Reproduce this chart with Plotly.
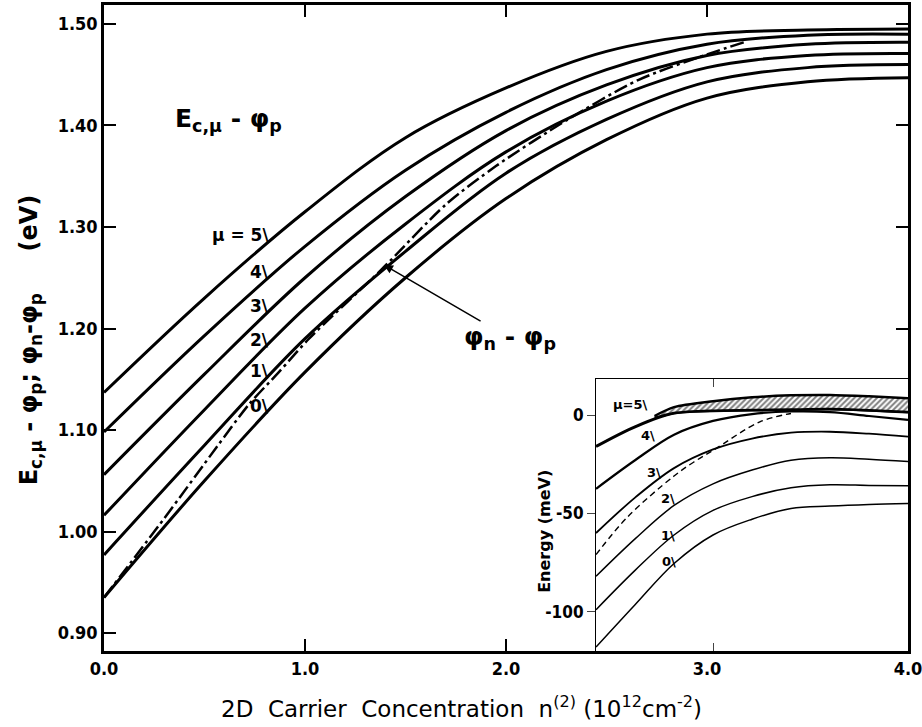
import plotly.graph_objects as go

# ---------------- main panel data ----------------
n_main = [0.0, 0.5, 1.0, 1.5, 2.0, 2.5, 3.0, 3.5, 4.0]
mu5 = [1.137, 1.230, 1.315, 1.388, 1.437, 1.473, 1.490, 1.494, 1.495]
mu4 = [1.098, 1.193, 1.281, 1.356, 1.413, 1.455, 1.480, 1.489, 1.490]
mu3 = [1.056, 1.155, 1.250, 1.330, 1.395, 1.440, 1.469, 1.480, 1.482]
mu2 = [1.016, 1.120, 1.220, 1.303, 1.374, 1.424, 1.457, 1.469, 1.471]
mu1 = [0.977, 1.085, 1.190, 1.276, 1.353, 1.406, 1.443, 1.457, 1.460]
mu0 = [0.935, 1.050, 1.157, 1.250, 1.328, 1.386, 1.427, 1.443, 1.447]
main_curves = [mu5, mu4, mu3, mu2, mu1, mu0]

n_dd = [0.0, 0.3, 0.56, 0.72, 0.87, 1.02, 1.38, 1.70, 1.95, 2.3, 2.66, 3.0, 3.2]
phi_np = [0.935, 1.013, 1.083, 1.125, 1.157, 1.190, 1.258, 1.322, 1.360, 1.405, 1.445, 1.470, 1.483]

y_ticks = [0.90, 1.00, 1.10, 1.20, 1.30, 1.40, 1.50]
y_ticktext = ["0.90", "1.00", "1.10", "1.20", "1.30", "1.40", "1.50"]
x_ticks = [0, 1, 2, 3, 4]
x_ticktext = ["0.0", "1.0", "2.0", "3.0", "4.0"]

# ---------------- inset data ----------------
x_in = [24, 26, 28, 30, 32, 34, 36, 38, 40]
in0 = [-118, -96.5, -75.5, -61, -53, -47.5, -46.3, -45.5, -45]
in1 = [-99, -79, -61, -48.5, -41.5, -37, -35.5, -35.8, -36]
in2 = [-82, -63, -46, -35, -28, -23, -21.7, -22.5, -23.7]
in3 = [-60, -42, -27, -17.5, -12, -9, -8.5, -9.5, -11]
in4 = [-37.5, -23, -10, -3, 0.5, 1.8, 1.5, -0.5, -2.5]
in5 = [-16, -6, 1, 2.2, 2.5, 2.8, 3, 2.4, 1.5]
x_band = [27, 28, 30, 32, 34, 36, 38, 40]
band_lo = [-1.5, 1, 2.2, 2.5, 2.8, 3, 2.4, 1.5]
band_hi = [-0.5, 4, 7, 9, 10, 10.2, 9.5, 8.5]
x_dash = [24, 25.6, 28, 29, 30, 32.4, 34]
y_dash = [-71, -52, -31, -24, -18, -3.5, 0.8]
inset_yticks = [0, -50, -100]
inset_yticktext = ["0", "-50", "-100"]

NARROW = "DejaVu Sans Condensed, Liberation Sans Narrow, Arial Narrow, sans-serif"
SANS = "DejaVu Sans, Liberation Sans, sans-serif"

fig = go.Figure()

for ys in main_curves:
    fig.add_trace(go.Scatter(x=n_main, y=ys, mode="lines",
                             line=dict(color="black", width=3, shape="spline", smoothing=1.0),
                             xaxis="x", yaxis="y", showlegend=False, hoverinfo="skip"))
fig.add_trace(go.Scatter(x=n_dd, y=phi_np, mode="lines",
                         line=dict(color="black", width=2.5, dash="14px,4px,3px,4px",
                                   shape="spline", smoothing=0.8),
                         xaxis="x", yaxis="y", showlegend=False, hoverinfo="skip"))
# helper trace for right-side ticks
fig.add_trace(go.Scatter(x=[None], y=[None], xaxis="x", yaxis="y3", showlegend=False,
                         hoverinfo="skip"))

# inset
for ys, w in [(in0, 1.5), (in1, 1.5), (in2, 1.5), (in3, 1.8), (in4, 2.2), (in5, 3)]:
    fig.add_trace(go.Scatter(x=x_in, y=ys, mode="lines",
                             line=dict(color="black", width=w, shape="spline", smoothing=1.0),
                             xaxis="x2", yaxis="y2", showlegend=False, hoverinfo="skip"))
fig.add_trace(go.Scatter(x=x_band, y=band_lo, mode="lines",
                         line=dict(color="black", width=2.5, shape="spline", smoothing=0.8),
                         xaxis="x2", yaxis="y2", showlegend=False, hoverinfo="skip"))
fig.add_trace(go.Scatter(x=x_band, y=band_hi, mode="lines", fill="tonexty",
                         fillcolor="white",
                         fillpattern=dict(shape="/", fgcolor="black", bgcolor="white",
                                          size=4, solidity=0.5),
                         line=dict(color="black", width=2.5, shape="spline", smoothing=0.8),
                         xaxis="x2", yaxis="y2", showlegend=False, hoverinfo="skip"))
fig.add_trace(go.Scatter(x=x_dash, y=y_dash, mode="lines",
                         line=dict(color="black", width=1.4, dash="6px,4px", shape="spline"),
                         xaxis="x2", yaxis="y2", showlegend=False, hoverinfo="skip"))

YR = [0.8823, 1.5187]
TF = dict(family=NARROW, size=18, color="black", weight="bold")
fig.update_layout(
    width=922, height=727,
    margin=dict(l=104, r=14, t=5, b=76, autoexpand=False),
    paper_bgcolor="white", plot_bgcolor="white",
    xaxis=dict(domain=[0, 1], range=[0, 4], showline=True, linewidth=2.5, linecolor="black",
               mirror="ticks", ticks="inside", ticklen=12, tickwidth=1.5, tickcolor="black",
               tickvals=x_ticks, ticktext=x_ticktext, showgrid=False, zeroline=False,
               automargin=False, ticklabeloverflow="allow", tickfont=TF),
    yaxis=dict(domain=[0, 1], range=YR, showline=True, linewidth=2.5, linecolor="black",
               mirror=True, ticks="inside", ticklen=12, tickwidth=1.5, tickcolor="black",
               tickvals=y_ticks, ticktext=y_ticktext, showgrid=False, zeroline=False,
               automargin=False, tickfont=TF),
    yaxis3=dict(overlaying="y", side="right", range=YR, showline=False, showgrid=False,
                zeroline=False, ticks="inside", ticklen=12, tickwidth=1.5, tickcolor="black",
                tickvals=[1.2, 1.3, 1.4, 1.5], showticklabels=False, automargin=False),
    xaxis2=dict(domain=[0.612, 1.0], anchor="y2", range=[24, 40], showline=True,
                linewidth=1.2, linecolor="black", mirror="ticks", ticks="inside", ticklen=8,
                tickwidth=1.2, tickvals=[30], showticklabels=False, showgrid=False,
                zeroline=False, automargin=False),
    yaxis2=dict(domain=[0, 0.421], anchor="x2", range=[-120, 18.3], showline=True,
                linewidth=1.2, linecolor="black", mirror=True, ticks="outside", ticklen=8,
                tickwidth=1.2, tickvals=inset_yticks, ticktext=inset_yticktext,
                showgrid=False, zeroline=False, automargin=False,
                tickfont=dict(family=NARROW, size=17, color="black", weight="bold")),
)

ann = []
ann.append(dict(text="E<sub>c,μ</sub> - φ<sub>p</sub>; φ<sub>n</sub>-φ<sub>p</sub>     (eV)",
                xref="paper", yref="paper", x=-0.092, y=0.481, textangle=-90,
                xanchor="center", yanchor="middle",
                showarrow=False, font=dict(family=SANS, size=24, color="black", weight="bold")))
ann.append(dict(text="2D  Carrier  Concentration  n<sup>(2)</sup> (10<sup>12</sup>cm<sup>-2</sup>)",
                xref="paper", yref="paper", x=0.445, y=-0.086, xanchor="center",
                yanchor="middle", showarrow=False,
                font=dict(family=SANS, size=23, color="black")))
ann.append(dict(text="E<sub>c,μ</sub> - φ<sub>p</sub>", xref="x", yref="y", x=0.617, y=1.405,
                showarrow=False, font=dict(family=SANS, size=25, color="black", weight="bold")))
ann.append(dict(text="φ<sub>n</sub> - φ<sub>p</sub>", xref="x", yref="y", x=2.02, y=1.191,
                showarrow=False, font=dict(family=SANS, size=25, color="black", weight="bold")))
ann.append(dict(text="", xref="x", yref="y", x=1.393, y=1.2626, axref="x", ayref="y",
                ax=1.881, ay=1.2064, showarrow=True, arrowhead=2, arrowsize=1.2,
                arrowwidth=1.5, arrowcolor="black"))
for txt, yv in [("μ = 5\\", 1.292), ("4\\", 1.256), ("3\\", 1.222), ("2\\", 1.189),
                ("1\\", 1.158), ("0\\", 1.124)]:
    ann.append(dict(text=txt, xref="x", yref="y", x=0.83, y=yv, xanchor="right",
                    showarrow=False, font=dict(family=SANS, size=17, color="black", weight="bold")))
for txt, xv, yv in [("μ=5\\", 26.77, 5.6), ("4\\", 27.13, -10.2), ("3\\", 27.44, -29),
                    ("2\\", 28.15, -42.7), ("1\\", 28.15, -61.5), ("0\\", 28.2, -74.7)]:
    ann.append(dict(text=txt, xref="x2", yref="y2", x=xv, y=yv, xanchor="right",
                    showarrow=False, font=dict(family=SANS, size=13, color="black", weight="bold")))
ann.append(dict(text="Energy (meV)", xref="paper", yref="paper", x=0.5485, y=0.186,
                textangle=-90, xanchor="center", yanchor="middle", showarrow=False,
                font=dict(family=SANS, size=16, color="black", weight="bold")))
fig.update_layout(annotations=ann)

fig.write_html("out.html", config={"displayModeBar": False},
               post_script="document.body.style.margin='0px';document.body.style.overflow='hidden';")
